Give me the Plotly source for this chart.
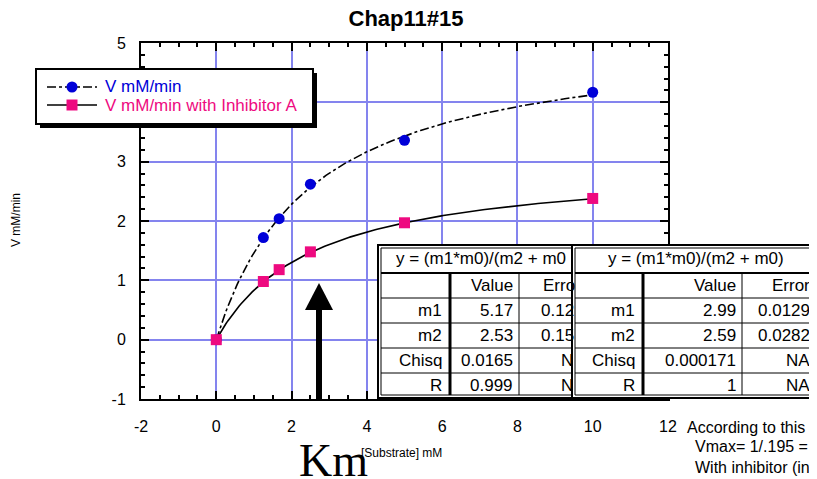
import numpy as np
import plotly.graph_objects as go

# ---------------- data ----------------
substrate = [0, 1.25, 1.67, 2.5, 5, 10]
v_control = [0, 1.72, 2.04, 2.62, 3.36, 4.17]
v_inhib = [0, 0.98, 1.18, 1.48, 1.97, 2.38]

# fit results shown in the two tables: y = (m1*m0)/(m2 + m0)
fit_rows = ["m1", "m2", "Chisq", "R"]
fit_a_values = ["5.17", "2.53", "0.0165", "0.999"]
fit_a_errors_visible = ["0.12", "0.15", "N", "N"]
fit_b_values = ["2.99", "2.59", "0.000171", "1"]
fit_b_errors = ["0.0129", "0.0282", "NA", "NA"]
m1_a, m2_a = 5.17, 2.53
m1_b, m2_b = 2.99, 2.59

x_ticks = [-2, 0, 2, 4, 6, 8, 10, 12]
y_ticks = [-1, 0, 1, 2, 3, 4, 5]

BLUE = "#0000D8"
PINK = "#EE0A80"
GRID = "#8484EE"
FONT = "Liberation Sans, Arial, sans-serif"

# page body margin offsets the figure by 8 px; work in screen pixels
OFF = 8
W, H = 817 - OFF, 479 - OFF
L, R, T, B = 141 - OFF, 668 - OFF, 43 - OFF, 399 - OFF


def px(sx):
    return ((sx - OFF) - L) / (R - L)


def py(sy):
    return (B - (sy - OFF)) / (B - T)


fig = go.Figure()

# fitted curves from table parameters
xf = np.linspace(0, 10, 200)
fig.add_trace(go.Scatter(x=xf, y=m1_a * xf / (m2_a + xf), mode="lines",
                         line=dict(color="black", width=1.6, dash="dashdot"),
                         showlegend=False, hoverinfo="skip"))
fig.add_trace(go.Scatter(x=xf, y=m1_b * xf / (m2_b + xf), mode="lines",
                         line=dict(color="black", width=1.6),
                         showlegend=False, hoverinfo="skip"))
# data points
fig.add_trace(go.Scatter(x=substrate, y=v_control, mode="markers", name="V mM/min",
                         marker=dict(symbol="circle", size=11, color=BLUE),
                         showlegend=False))
fig.add_trace(go.Scatter(x=substrate, y=v_inhib, mode="markers",
                         name="V mM/min with Inhibitor A",
                         marker=dict(symbol="square", size=11, color=PINK),
                         showlegend=False))

shapes = []
annotations = []


def rect(x0, y0, x1, y1, lw=1, fill=None, line="black"):
    shapes.append(dict(type="rect", xref="paper", yref="paper",
                       x0=px(x0), x1=px(x1), y0=py(y0), y1=py(y1),
                       line=dict(color=line, width=lw),
                       fillcolor=fill if fill else "rgba(0,0,0,0)",
                       layer="above"))


def line(x0, y0, x1, y1, lw=1, dash="solid"):
    shapes.append(dict(type="line", xref="paper", yref="paper",
                       x0=px(x0), x1=px(x1), y0=py(y0), y1=py(y1),
                       line=dict(color="black", width=lw, dash=dash), layer="above"))


def text(s, x, y, xanchor="left", size=17, color="black", fam=FONT, angle=0):
    annotations.append(dict(text=s, xref="paper", yref="paper",
                            x=px(x), y=py(y), xanchor=xanchor, yanchor="middle",
                            showarrow=False, textangle=angle,
                            font=dict(family=fam, size=size, color=color)))


def table_frame(x0, x1, c1, c2, top=245, bot=398):
    rect(x0, top, x1, bot, lw=2, fill="white")
    rect(x0 + 3, top + 3, x1 - 3, bot - 3, lw=1)
    line(x0 + 3, 273, x1 - 3, 273, lw=2)
    for yy in [298, 323, 348, 373]:
        line(x0 + 3, yy, x1 - 3, yy, lw=1)
    line(c1, 273, c1, bot - 3, lw=3)
    line(c2, 273, c2, bot - 3, lw=1)


row_y = [310.5, 335.5, 360.5, 385.5]

# table 1 (partly hidden behind table 2)
table_frame(378, 590, 450, 519)
text("y = (m1*m0)/(m2 + m0", 394, 259)
text("Value", 515, 285.5, "right")
text("Erro", 541, 285.5)
for i, lab in enumerate(fit_rows):
    text(lab, 444, row_y[i], "right")
    text(fit_a_values[i], 515, row_y[i], "right")
    text(fit_a_errors_visible[i], 539 if i < 2 else 559, row_y[i])

# table 2
table_frame(572, 830, 643, 742)
text("y = (m1*m0)/(m2 + m0)", 696, 259, "center")
text("Value", 738, 285.5, "right")
text("Error", 812, 285.5, "right")
for i, lab in enumerate(fit_rows):
    text(lab, 637, row_y[i], "right")
    text(fit_b_values[i], 738, row_y[i], "right")
    text(fit_b_errors[i], 812, row_y[i], "right")

# arrow
rect(316, 309, 322, 399, lw=0, fill="black")
shapes.append(dict(type="path", xref="paper", yref="paper",
                   path=f"M{px(305)},{py(310)} L{px(333)},{py(310)} L{px(319)},{py(283)} Z",
                   fillcolor="black", line=dict(color="black", width=0), layer="above"))

# legend box with drop shadow
rect(40, 73, 317, 128, lw=0, fill="black")
rect(36, 69, 313, 124, lw=2, fill="white")
line(47, 87, 97, 87, lw=1.6, dash="dashdot")
shapes.append(dict(type="circle", xref="paper", yref="paper",
                   x0=px(66.5), x1=px(77.5), y0=py(81.5), y1=py(92.5),
                   fillcolor=BLUE, line=dict(width=0), layer="above"))
text("V mM/min", 103, 87, color=BLUE)
line(47, 105, 97, 105, lw=1.6)
rect(66.5, 99.5, 77.5, 110.5, lw=0, fill=PINK)
text("V mM/min with Inhibitor A", 103, 105, color=PINK)

# axis titles and notes
text("V mM/min", 16, 220, "center", size=12, angle=-90)
text("Km", 333, 460, "center", size=46, fam="Liberation Serif, Times New Roman, serif")
text("[Substrate] mM", 359, 453, "left", size=12)
text("According to this p", 685, 427, "left", size=16)
text("Vmax= 1/.195 = 5", 693, 447, "left", size=16)
text("With inhibitor (in r", 693, 467, "left", size=16)

axis_common = dict(showline=True, linecolor="black", linewidth=2, mirror="ticks",
                   ticks="inside", ticklen=8, tickwidth=2, tickcolor="black",
                   showgrid=True, gridcolor=GRID, gridwidth=2, zeroline=False,
                   tickfont=dict(family=FONT, size=16, color="black"))

fig.update_layout(
    width=W, height=H,
    margin=dict(l=L, r=W - R, t=T, b=H - B, autoexpand=False),
    plot_bgcolor="white", paper_bgcolor="white",
    title=dict(text="<b>Chap11#15</b>", x=px(406), xref="paper", xanchor="center",
               y=1 - (18 - OFF) / H, yanchor="middle",
               font=dict(family=FONT, size=22, color="black")),
    xaxis=dict(range=[-2, 12], tickvals=x_ticks, ticktext=[str(v) for v in x_ticks],
               ticklabelstandoff=12,
               minor=dict(dtick=0.5, tick0=0, ticklen=4, tickwidth=2, ticks="inside",
                          tickcolor="black", showgrid=False),
               **axis_common),
    yaxis=dict(range=[-1, 5], tickvals=y_ticks, ticktext=[str(v) for v in y_ticks],
               ticklabelstandoff=10,
               minor=dict(dtick=0.2, tick0=0, ticklen=4, tickwidth=2, ticks="inside",
                          tickcolor="black", showgrid=False),
               **axis_common),
    shapes=shapes,
    annotations=annotations,
    showlegend=False,
)

fig.write_html("out.html")
